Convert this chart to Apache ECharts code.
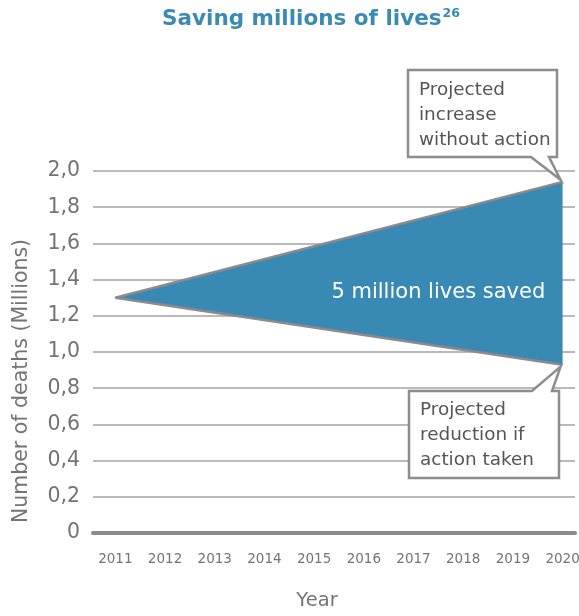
<!DOCTYPE html>
<html>
<head>
<meta charset="utf-8">
<script src="https://cdn.jsdelivr.net/npm/echarts@6/dist/echarts.min.js"></script>
<style>
  html, body { margin: 0; padding: 0; background: #fff; }
  #chart { width: 579px; height: 616px; }
</style>
</head>
<body>
<div id="chart"></div>
<script>
// Projection endpoints (millions of deaths)
const years = [2011, 2020];
const withoutAction = [1.3, 1.94];
const withAction = [1.3, 0.93];
const yearLabels = [2011, 2012, 2013, 2014, 2015, 2016, 2017, 2018, 2019, 2020];

const FONT = '"DejaVu Sans", sans-serif';
const FILL = '#3889b3';
const EDGE = '#8b8a8d';
const TEXT = '#747474';

const chart = echarts.init(document.getElementById('chart'));

const upper = years.map((y, i) => [y, withoutAction[i]]);
const lower = years.map((y, i) => [y, withAction[i]]);

const option = {
  animation: false,
  title: {
    text: '{t|Saving millions of lives}{s|26}',
    left: 157,
    top: 2,
    textStyle: {
      rich: {
        t: { fontFamily: FONT, fontWeight: 'bold', fontSize: 21.5, color: '#3a8ab5' },
        s: { fontFamily: FONT, fontWeight: 'bold', fontSize: 12.5, color: '#3a8ab5', verticalAlign: 'top', padding: [0, 0, 11, 1] }
      }
    }
  },
  grid: { left: 93, right: 4, top: 171, bottom: 83, outerBoundsMode: 'none', containLabel: false },
  xAxis: {
    type: 'value',
    min: 2010.55,
    max: 2020.25,
    splitLine: { show: false },
    axisLine: { show: true, lineStyle: { color: EDGE, width: 4 } },
    axisTick: { show: false },
    axisLabel: {
      customValues: yearLabels,
      margin: 19,
      fontFamily: FONT,
      fontSize: 13.5,
      color: TEXT,
      formatter: v => String(v)
    }
  },
  yAxis: {
    type: 'value',
    min: 0,
    max: 2,
    interval: 0.2,
    axisLine: { show: false },
    axisTick: { show: false },
    axisLabel: {
      margin: 13,
      fontFamily: FONT,
      fontSize: 20.5,
      color: TEXT,
      formatter: v => v === 0 ? '0' : v.toFixed(1).replace('.', ',')
    },
    splitLine: { lineStyle: { color: '#a3a3a3', width: 1.5 } }
  },
  series: [
    {
      // shaded wedge between the two projections
      type: 'custom',
      silent: true,
      z: 2,
      data: [0],
      renderItem: (params, api) => {
        const pts = upper.map(p => api.coord(p)).concat(lower.slice().reverse().map(p => api.coord(p)));
        return {
          type: 'polygon',
          shape: { points: pts },
          style: { fill: FILL, stroke: null }
        };
      }
    },
    {
      name: 'Projected increase without action',
      type: 'line',
      data: upper,
      symbol: 'none',
      z: 3,
      lineStyle: { color: EDGE, width: 2.5 }
    },
    {
      name: 'Projected reduction if action taken',
      type: 'line',
      data: lower,
      symbol: 'none',
      z: 3,
      lineStyle: { color: EDGE, width: 2.5 }
    }
  ]
};

chart.setOption(option);

// Callouts pointing at the 2020 end of each projection
const tipTop = chart.convertToPixel({ gridIndex: 0 }, upper[1]);
const tipBot = chart.convertToPixel({ gridIndex: 0 }, lower[1]);
const mid = chart.convertToPixel({ gridIndex: 0 }, [2017.5, 1.33]);

const boxStyle = { fill: '#fff', stroke: '#8d8d8d', lineWidth: 2.5, lineJoin: 'miter' };
const labelStyle = { fontFamily: FONT, fontSize: 18.4, fill: '#555', lineHeight: 25 };

chart.setOption({
  graphic: [
    // axis titles
    {
      type: 'text',
      style: {
        text: 'Number of deaths (Millions)',
        x: 0, y: 0,
        align: 'center', verticalAlign: 'middle',
        fontFamily: FONT, fontSize: 20.5, fill: TEXT
      },
      x: 22, y: 381,
      rotation: Math.PI / 2
    },
    {
      type: 'text',
      style: {
        text: 'Year',
        x: 317, y: 601,
        align: 'center', verticalAlign: 'middle',
        fontFamily: FONT, fontSize: 19.5, fill: TEXT
      }
    },
    {
      type: 'polygon',
      z: 10,
      shape: {
        points: [[408, 70], [557, 70], [557, 157], [549, 157], [tipTop[0] - 2, tipTop[1] - 2], [531, 157], [408, 157]]
      },
      style: boxStyle
    },
    {
      type: 'text',
      z: 11,
      left: 419,
      top: 78,
      style: Object.assign({ text: 'Projected\nincrease\nwithout action' }, labelStyle)
    },
    {
      type: 'polygon',
      z: 10,
      shape: {
        points: [[409, 391], [532, 391], [tipBot[0] - 2, tipBot[1] + 2], [552, 391], [559, 391], [559, 478], [409, 478]]
      },
      style: boxStyle
    },
    {
      type: 'text',
      z: 11,
      left: 420,
      top: 398,
      style: Object.assign({ text: 'Projected\nreduction if\naction taken' }, labelStyle)
    },
    {
      type: 'text',
      z: 11,
      style: {
        text: '5 million lives saved',
        x: mid[0],
        y: mid[1],
        align: 'center',
        verticalAlign: 'middle',
        fontFamily: FONT,
        fontSize: 21,
        fill: '#fff'
      }
    }
  ]
});
</script>
</body>
</html>
